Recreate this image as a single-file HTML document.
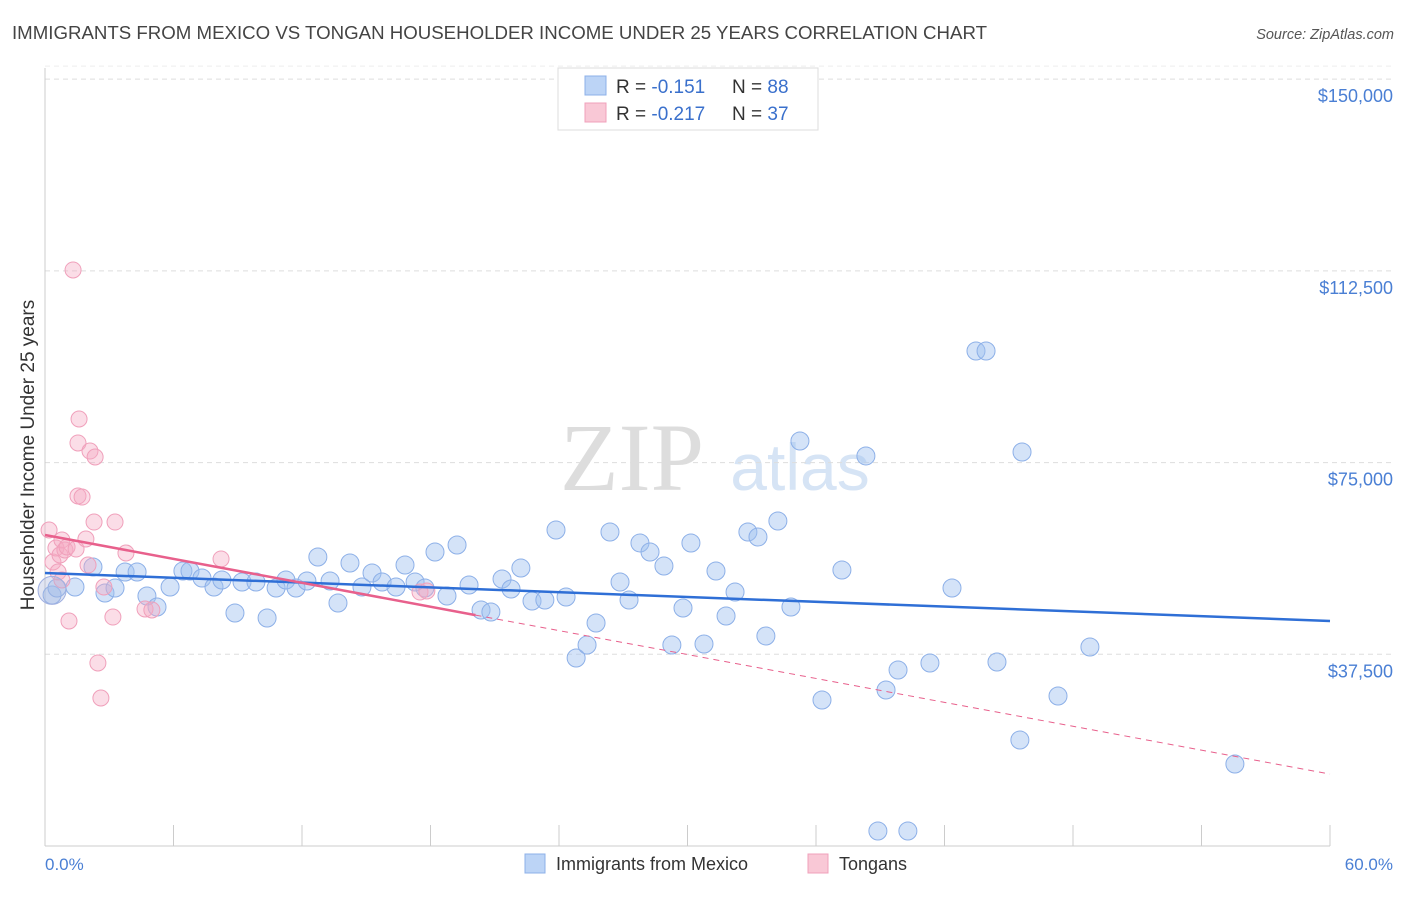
<!DOCTYPE html>
<html><head><meta charset="utf-8"><style>
body{margin:0;background:#fff;font-family:"Liberation Sans",sans-serif}
svg text{font-family:"Liberation Sans",sans-serif}
</style></head><body>
<svg id="c" width="1406" height="892">
<text x="12" y="39" font-size="18" fill="#444" textLength="975" lengthAdjust="spacingAndGlyphs">IMMIGRANTS FROM MEXICO VS TONGAN HOUSEHOLDER INCOME UNDER 25 YEARS CORRELATION CHART</text>
<text x="1394" y="39" font-size="14.5" fill="#555" font-style="italic" text-anchor="end">Source: ZipAtlas.com</text>
<text x="632" y="490" font-size="96" fill="#ddd" text-anchor="middle" style="font-family:'Liberation Serif',serif">ZIP</text>
<text x="800" y="490" font-size="66" fill="#d6e4f5" text-anchor="middle">atlas</text>
<g id="grid"></g><g id="pts"></g><g id="lines"></g>
<text transform="translate(34,455) rotate(-90)" font-size="19" fill="#333" text-anchor="middle">Householder Income Under 25 years</text>
<text x="45" y="870" font-size="17" fill="#4a7fd4">0.0%</text>
<text x="1393" y="870" font-size="17" fill="#4a7fd4" text-anchor="end">60.0%</text>
<g>
<rect x="558" y="68" width="260" height="62" fill="#fff" stroke="#ddd"/>
<rect x="585" y="76" width="21" height="19" fill="#bcd4f6" stroke="#8db0e8"/>
<rect x="585" y="103" width="21" height="19" fill="#f9c8d6" stroke="#f0a0bb"/>
<text x="616" y="93" font-size="19" fill="#333">R = <tspan fill="#3a70cc"> -0.151</tspan><tspan x="732">N = </tspan><tspan fill="#3a70cc">88</tspan></text>
<text x="616" y="120" font-size="19" fill="#333">R = <tspan fill="#3a70cc">-0.217</tspan><tspan x="732">N = </tspan><tspan fill="#3a70cc">37</tspan></text>
</g>
<g>
<rect x="525" y="854" width="20" height="19" fill="#bcd4f6" stroke="#8db0e8"/>
<text x="556" y="870" font-size="18" fill="#333">Immigrants from Mexico</text>
<rect x="808" y="854" width="20" height="19" fill="#f9c8d6" stroke="#f0a0bb"/>
<text x="839" y="870" font-size="18" fill="#333">Tongans</text>
</g>
</svg>
<script>
const yTicks=[37500,75000,112500,150000];
const yTickLabels=["$37,500","$75,000","$112,500","$150,000"];
const blueX=[0.33,0.56,1.40,2.24,2.80,3.27,3.74,4.30,4.76,5.23,5.84,6.44,6.77,7.33,7.89,8.26,8.87,9.20,9.85,10.37,10.79,11.25,11.72,12.23,12.74,13.31,13.68,14.24,14.80,15.27,15.74,16.39,16.81,17.28,17.74,18.21,18.77,19.24,19.80,20.36,20.82,21.34,21.76,22.22,22.74,23.34,23.86,24.33,24.80,25.31,25.73,26.38,26.85,27.27,27.78,28.25,28.90,29.27,29.79,30.16,30.77,31.33,31.80,32.22,32.82,33.29,33.66,34.22,34.83,35.25,36.28,37.21,38.33,38.89,39.27,39.83,40.29,41.32,42.35,43.47,43.94,44.45,45.62,45.52,47.30,48.79,55.56];
const blueY=[49100,50460,50660,54570,49490,50460,53590,53590,48900,46750,50660,53790,53790,52420,50660,52030,45580,51640,51640,44600,50460,52030,50460,51830,56530,51830,47530,55350,50660,53400,51640,50660,54960,51640,50460,57510,48900,58880,51050,46160,45770,52220,50270,54370,47920,48120,61810,48710,36770,39320,43620,61420,51640,48120,59270,57510,54770,39320,46550,59270,39510,53790,44990,49680,61420,60440,41080,63570,46750,79220,28560,53990,76290,2930,30510,34430,2930,35800,50460,96820,96820,35990,77070,20730,29340,38920,16040];
const pinkX=[0.19,0.37,0.51,0.61,0.70,0.79,0.79,0.93,1.03,1.12,1.31,1.45,1.54,1.59,1.54,1.73,1.91,2.01,2.10,2.29,2.34,2.47,2.61,2.75,3.17,3.27,3.78,4.67,4.99,8.22,17.51,17.83];
const pinkY=[61810,55550,58290,53590,56920,59850,52030,57900,58490,44010,112670,58090,78830,83520,68460,68260,60050,54960,77260,63370,76090,35800,28950,50660,44790,63370,57310,46360,46160,56140,49680,49880];
const blueTrend=[53400,44010];
const pinkTrend=[60830,14070];
const pinkSolidEnd=20.1;
const X=p=>45+p/60*1285, Y=v=>846-v/195.6;
const NS="http://www.w3.org/2000/svg";
function mk(t,a,par){const e=document.createElementNS(NS,t);for(const k in a)e.setAttribute(k,a[k]);document.getElementById(par).appendChild(e);return e;}
yTicks.forEach((v,i)=>{
 const l=mk('line',{x1:45,x2:1393,y1:Y(v),y2:Y(v),stroke:'#ddd','stroke-dasharray':'5,4'},'grid');
 
 
 const t=mk('text',{x:1393,y:Y(v)+23,'font-size':18,fill:'#4a7fd4','text-anchor':'end'},'grid');
 t.textContent=yTickLabels[i];
 
 
});
mk('line',{x1:45,x2:1393,y1:Y(150000)-13,y2:Y(150000)-13,stroke:'#eee','stroke-dasharray':'5,4'},'grid');
mk('line',{x1:45,x2:45,y1:68,y2:846,stroke:'#ccc'},'grid');
mk('line',{x1:45,x2:1330,y1:846,y2:846,stroke:'#ccc'},'grid');
for(let i=0;i<=10;i++){const t=mk('line',{x1:X(i*6),x2:X(i*6),y1:825,y2:846,stroke:'#ccc'},'grid');
 
 }
blueX.forEach((x,i)=>{const c=mk('circle',{cx:X(x),cy:Y(blueY[i]),r:9,fill:'rgba(160,192,240,0.45)',stroke:'#8db0e8','stroke-width':1},'pts');
 
 });
pinkX.forEach((x,i)=>{const c=mk('circle',{cx:X(x),cy:Y(pinkY[i]),r:8,fill:'rgba(245,170,195,0.4)',stroke:'#f0a0bb','stroke-width':1},'pts');
 
 });
const big=mk('circle',{cx:X(0.33),cy:Y(50000),r:14,fill:'rgba(170,180,220,0.35)',stroke:'#a0b0e0'},'pts');


const bl=mk('line',{x1:X(0),y1:Y(blueTrend[0]),x2:X(60),y2:Y(blueTrend[1]),stroke:'#2f6fd6','stroke-width':2.5},'lines');


const pv=p=>pinkTrend[0]+(pinkTrend[1]-pinkTrend[0])*p/60;
const pl=mk('line',{x1:X(0),y1:Y(pv(0)),x2:X(pinkSolidEnd),y2:Y(pv(pinkSolidEnd)),stroke:'#e8608c','stroke-width':2.5},'lines');


const pd=mk('line',{x1:X(pinkSolidEnd),y1:Y(pv(pinkSolidEnd)),x2:X(60),y2:Y(pv(60)),stroke:'#e8608c','stroke-width':1,'stroke-dasharray':'6,5'},'lines');


</script>
</body></html>
